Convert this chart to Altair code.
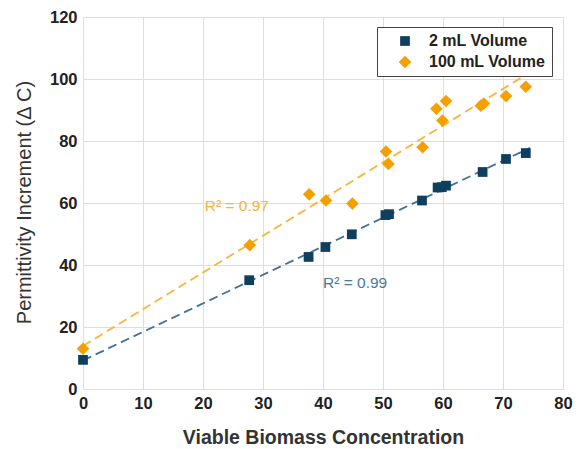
import altair as alt
import pandas as pd

series_names = ["2 mL Volume", "100 mL Volume"]
x_2ml = [0, 27.7, 37.6, 40.4, 44.8, 50.4, 51.0, 56.5, 59.1, 59.8, 60.5, 66.6, 70.5, 73.8]
y_2ml = [9.4, 35.1, 42.6, 45.8, 49.9, 56.1, 56.4, 60.8, 65.0, 65.1, 65.6, 70.0, 74.2, 76.1]
x_100ml = [0, 27.8, 37.7, 40.5, 44.9, 50.5, 50.9, 56.6, 58.9, 59.9, 60.5, 66.3, 66.8, 70.5, 73.8]
y_100ml = [13.0, 46.4, 62.8, 60.8, 59.8, 76.6, 72.6, 78.0, 90.4, 86.6, 92.9, 91.4, 92.1, 94.5, 97.5]
fit_extent = [0, 74.5]
r2_labels = ["R² = 0.99", "R² = 0.97"]
r2_x = [40.0, 20.3]
r2_y = [34.2, 59.0]

FONT = "Liberation Sans"
marker_colors = ["#0f3f5f", "#f5a000"]
line_colors = ["#3f7194", "#f6b43c"]
text_colors = ["#4c7898", "#f5b43c"]

df = pd.DataFrame({
    "x": x_2ml + x_100ml,
    "y": y_2ml + y_100ml,
    "series": [series_names[0]] * len(x_2ml) + [series_names[1]] * len(x_100ml),
})
ann = pd.DataFrame({"x": r2_x, "y": r2_y, "label": r2_labels, "series": series_names})

xscale = alt.Scale(domain=[0, 80], nice=False)
yscale = alt.Scale(domain=[0, 120], nice=False)

xaxis = alt.Axis(values=list(range(0, 81, 10)), title="Viable Biomass Concentration",
                 labelFont=FONT, labelFontSize=16.5, labelFontWeight="bold", labelColor="#222",
                 labelPadding=6, labelFlush=False, ticks=False, domain=False,
                 titleFont=FONT, titleFontSize=19.5, titleFontWeight="bold", titleColor="#333",
                 titleX=240, titleY=48, titleBaseline="middle", titleAlign="center",
                 gridColor="#dedede")
yaxis = alt.Axis(values=list(range(0, 121, 20)), title="Permittivity Increment (Δ C)",
                 labelFont=FONT, labelFontSize=16.5, labelFontWeight="bold", labelColor="#222",
                 labelPadding=6, labelFlush=False, ticks=False, domain=False,
                 titleFont=FONT, titleFontSize=20, titleFontWeight="normal", titleColor="#333",
                 titleX=-59, titleY=185, titleAngle=-90, titleBaseline="middle", titleAlign="center",
                 gridColor="#dedede")

lines = []
for i, name in enumerate(series_names):
    lines.append(
        alt.Chart(df).transform_filter(alt.datum.series == name)
        .transform_regression("x", "y", extent=fit_extent)
        .mark_line(color=line_colors[i], strokeDash=[9, 5], strokeWidth=1.8)
        .encode(x=alt.X("x:Q", scale=xscale, axis=xaxis), y=alt.Y("y:Q", scale=yscale, axis=yaxis))
    )

points = alt.Chart(df).mark_point(filled=True, opacity=1).encode(
    x=alt.X("x:Q", scale=xscale, axis=xaxis),
    y=alt.Y("y:Q", scale=yscale, axis=yaxis),
    color=alt.Color("series:N", scale=alt.Scale(domain=series_names, range=marker_colors), title=None,
                    legend=alt.Legend(orient="none", legendX=294, legendY=10, padding=6,
                                      strokeColor="#444", fillColor="white", labelFont=FONT,
                                      labelFontSize=16, labelFontWeight="bold", labelColor="#222",
                                      symbolOffset=14, labelOffset=16, rowPadding=5, cornerRadius=0)),
    shape=alt.Shape("series:N", scale=alt.Scale(domain=series_names, range=["square", "diamond"]), title=None),
    size=alt.Size("series:N", scale=alt.Scale(domain=series_names, range=[95, 160]), title=None),
)

texts = []
for i, name in enumerate(series_names):
    texts.append(
        alt.Chart(ann).transform_filter(alt.datum.series == name)
        .mark_text(align="left", baseline="middle", font=FONT, fontSize=15.5, color=text_colors[i])
        .encode(x=alt.X("x:Q", scale=xscale), y=alt.Y("y:Q", scale=yscale), text="label:N")
    )

chart = alt.layer(*lines, points, *texts).properties(
    width=480, height=372,
    autosize=alt.AutoSizeParams(type="none"),
    padding={"left": 75, "top": 9, "right": 11, "bottom": 58},
).configure_view(stroke="#555", strokeWidth=1.2).configure(background="white")

chart.save("out.html", embed_options={"renderer": "svg", "actions": False})
